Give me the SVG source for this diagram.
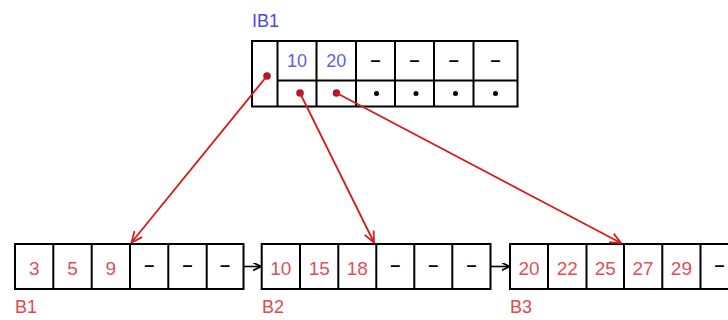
<svg xmlns="http://www.w3.org/2000/svg" width="728" height="320" viewBox="0 0 728 320">
<style>
.box{fill:#fff;stroke:#000;stroke-width:2}
.ln{stroke:#000;stroke-width:2}
.bt{font-family:"Liberation Sans",Arial,sans-serif;font-size:18px;fill:#6060e0;text-anchor:middle}
.rt{font-family:"Liberation Sans",Arial,sans-serif;font-size:19px;fill:#e05058;text-anchor:middle}
.lbl{font-family:"Liberation Sans",Arial,sans-serif;font-size:18px}
.dash{font-family:"Liberation Sans",Arial,sans-serif;font-size:18px;font-weight:bold;fill:#000;text-anchor:middle}
.rarrow{stroke:#d91a1a;stroke-width:1.8;fill:none;marker-end:url(#rh)}
.karrow{stroke:#000;stroke-width:1.6;fill:none;marker-end:url(#kh)}
.rdot{fill:#b5152a}
.kdot{fill:#000}
</style>
<defs>
<marker id="rh" viewBox="0 0 12 12" refX="11" refY="6" markerWidth="12" markerHeight="12" markerUnits="userSpaceOnUse" orient="auto">
<path d="M0,1 L11,6 L0,11" fill="none" stroke="#d91a1a" stroke-width="1.8"/>
</marker>
<marker id="kh" viewBox="0 0 8 8" refX="7" refY="4" markerWidth="8" markerHeight="8" markerUnits="userSpaceOnUse" orient="auto">
<path d="M0,0 L8,4 L0,8" fill="none" stroke="#000" stroke-width="1.6"/>
</marker>
</defs>

<g id="IB1">
<text class="lbl" x="252" y="26.5" fill="#4a4ae0">IB1</text>
<rect class="box" x="252" y="41" width="265.5" height="65.5"/>
<line class="ln" x1="277.5" y1="80.5" x2="517.5" y2="80.5"/>
<line class="ln" x1="277.5" y1="41" x2="277.5" y2="106.5"/>
<line class="ln" x1="316.5" y1="41" x2="316.5" y2="106.5"/>
<line class="ln" x1="356" y1="41" x2="356" y2="106.5"/>
<line class="ln" x1="395" y1="41" x2="395" y2="106.5"/>
<line class="ln" x1="434" y1="41" x2="434" y2="106.5"/>
<line class="ln" x1="473.5" y1="41" x2="473.5" y2="106.5"/>
<text class="bt" x="297" y="67">10</text>
<text class="bt" x="336.3" y="67">20</text>
<text class="dash" x="375.5" y="65.5">–</text>
<text class="dash" x="414.5" y="65.5">–</text>
<text class="dash" x="453.8" y="65.5">–</text>
<text class="dash" x="495.5" y="65.5">–</text>
<circle class="rdot" cx="267" cy="76" r="3.8"/>
<circle class="rdot" cx="300" cy="93" r="3.8"/>
<circle class="rdot" cx="336.5" cy="93" r="3.8"/>
<circle class="kdot" cx="376.5" cy="93.5" r="2.5"/>
<circle class="kdot" cx="416" cy="93.5" r="2.5"/>
<circle class="kdot" cx="455.5" cy="93.5" r="2.5"/>
<circle class="kdot" cx="495.5" cy="93.5" r="2.5"/>
</g>

<g id="B1">
<rect class="box" x="15" y="244" width="228.5" height="45"/>
<line class="ln" x1="53.3" y1="244" x2="53.3" y2="289"/>
<line class="ln" x1="91.7" y1="244" x2="91.7" y2="289"/>
<line class="ln" x1="130" y1="244" x2="130" y2="289"/>
<line class="ln" x1="168.3" y1="244" x2="168.3" y2="289"/>
<line class="ln" x1="206.7" y1="244" x2="206.7" y2="289"/>
<text class="rt" x="34.2" y="275">3</text>
<text class="rt" x="72.5" y="275">5</text>
<text class="rt" x="110.8" y="275">9</text>
<text class="dash" x="149.2" y="270.5">–</text>
<text class="dash" x="187.5" y="270.5">–</text>
<text class="dash" x="225" y="270.5">–</text>
<text class="lbl" x="15" y="312.5" fill="#e0484c">B1</text>
</g>

<g id="B2">
<rect class="box" x="261.7" y="244" width="228.8" height="45"/>
<line class="ln" x1="300" y1="244" x2="300" y2="289"/>
<line class="ln" x1="338.3" y1="244" x2="338.3" y2="289"/>
<line class="ln" x1="376.3" y1="244" x2="376.3" y2="289"/>
<line class="ln" x1="414.3" y1="244" x2="414.3" y2="289"/>
<line class="ln" x1="452.3" y1="244" x2="452.3" y2="289"/>
<text class="rt" x="280.8" y="275">10</text>
<text class="rt" x="319.2" y="275">15</text>
<text class="rt" x="357.3" y="275">18</text>
<text class="dash" x="395.3" y="270.5">–</text>
<text class="dash" x="433.3" y="270.5">–</text>
<text class="dash" x="471.4" y="270.5">–</text>
<text class="lbl" x="262" y="312.5" fill="#e0484c">B2</text>
</g>

<g id="B3">
<rect class="box" x="510" y="244" width="228.7" height="45"/>
<line class="ln" x1="548" y1="244" x2="548" y2="289"/>
<line class="ln" x1="586.5" y1="244" x2="586.5" y2="289"/>
<line class="ln" x1="624" y1="244" x2="624" y2="289"/>
<line class="ln" x1="662.3" y1="244" x2="662.3" y2="289"/>
<line class="ln" x1="700.5" y1="244" x2="700.5" y2="289"/>
<text class="rt" x="529" y="275">20</text>
<text class="rt" x="567.2" y="275">22</text>
<text class="rt" x="605.2" y="275">25</text>
<text class="rt" x="643.1" y="275">27</text>
<text class="rt" x="681.4" y="275">29</text>
<text class="dash" x="719.6" y="270.5">–</text>
<text class="lbl" x="510" y="312.5" fill="#e0484c">B3</text>
</g>

<g id="connectors">
<line class="rarrow" x1="267" y1="76" x2="131.5" y2="242.5"/>
<line class="rarrow" x1="300" y1="93" x2="374" y2="242.5"/>
<line class="rarrow" x1="336.5" y1="93" x2="621" y2="243"/>
<line class="karrow" x1="244" y1="266.5" x2="260" y2="266.5"/>
<line class="karrow" x1="491" y1="266.5" x2="508.5" y2="266.5"/>
</g>
</svg>
